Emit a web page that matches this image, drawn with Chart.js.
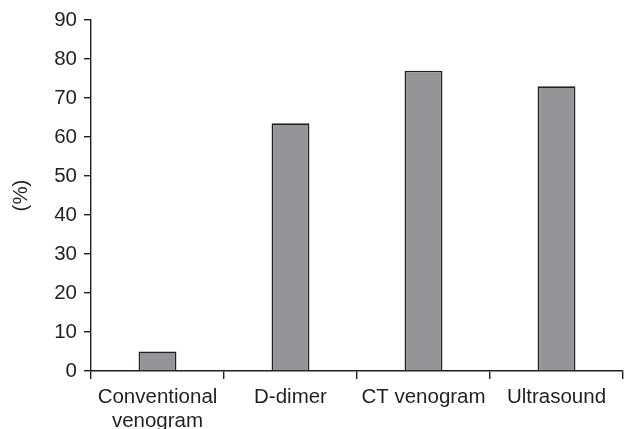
<!DOCTYPE html>
<html>
<head>
<meta charset="utf-8">
<script src="https://cdn.jsdelivr.net/npm/chart.js@4/dist/chart.umd.min.js"></script>
<style>
  html, body { margin: 0; padding: 0; background: #fff; }
  #wrap { width: 624px; height: 429px; }
</style>
</head>
<body>
<div id="wrap"><canvas id="c" width="624" height="429"></canvas></div>
<script>
const categories = [["Conventional", "venogram"], "D-dimer", "CT venogram", "Ultrasound"];
const values = [5, 63.5, 77, 73];
const yTicks = [0, 10, 20, 30, 40, 50, 60, 70, 80, 90];
const yTitle = "(%)";

const ink = '#231f20';
const font = { family: '"Liberation Sans", Arial, sans-serif', size: 20.5, lineHeight: 1.18 };

new Chart(document.getElementById('c'), {
  type: 'bar',
  data: {
    labels: categories,
    datasets: [{
      data: values,
      backgroundColor: '#939598',
      borderColor: ink,
      borderWidth: 1.6,
      categoryPercentage: 1,
      barPercentage: 0.285
    }]
  },
  options: {
    responsive: false,
    animation: false,
    devicePixelRatio: 1,
    layout: { padding: { top: 20, right: 1, left: 0, bottom: 0 } },
    plugins: { legend: { display: false }, tooltip: { enabled: false } },
    scales: {
      x: {
        border: { color: ink, width: 1.4 },
        grid: { drawOnChartArea: false, drawTicks: true, tickLength: 8, color: ink, lineWidth: 1.4, offset: true },
        ticks: { color: ink, font: font, padding: 6, maxRotation: 0, autoSkip: false },
        afterFit: s => { s.height = 58; }
      },
      y: {
        min: 0, max: 90,
        border: { color: ink, width: 1.4 },
        grid: { drawOnChartArea: false, drawTicks: true, tickLength: 7, color: ink, lineWidth: 1.4 },
        afterBuildTicks: s => { s.ticks = yTicks.map(v => ({ value: v })); },
        ticks: { color: ink, font: font, padding: 7 },
        title: { display: true, text: yTitle, color: ink, font: { family: font.family, size: 20.5 }, padding: { top: 9, bottom: 0 } },
        afterFit: s => { s.width = 91; }
      }
    }
  }
});
</script>
</body>
</html>
